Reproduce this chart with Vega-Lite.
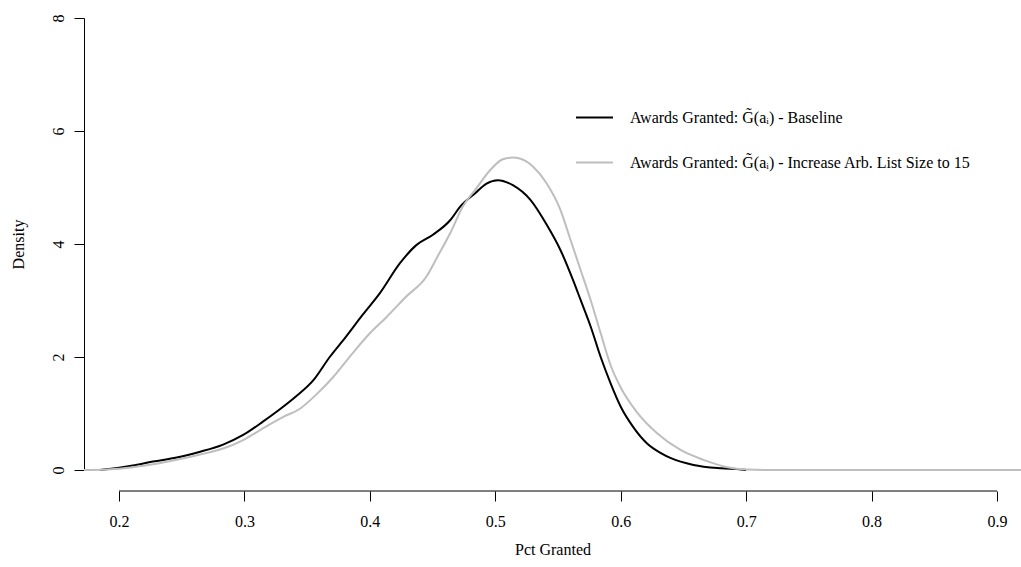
{
  "$schema": "https://vega.github.io/schema/vega-lite/v6.json",
  "width": 937,
  "height": 452,
  "autosize": "none",
  "padding": {"left": 84, "top": 18, "right": 0, "bottom": 97},
  "background": "white",
  "config": {
    "view": {"stroke": null},
    "font": "Liberation Serif",
    "axis": {
      "grid": false,
      "domainColor": "black",
      "domainWidth": 1,
      "tickColor": "black",
      "tickWidth": 1,
      "tickSize": 10,
      "labelFont": "Liberation Serif",
      "labelFontSize": 16,
      "labelColor": "black",
      "titleFont": "Liberation Serif",
      "titleFontSize": 16,
      "titleFontWeight": "normal",
      "titleColor": "black"
    },
    "legend": {
      "labelFont": "Liberation Serif",
      "labelFontSize": 16,
      "labelColor": "black",
      "labelLimit": 700
    }
  },
  "datasets": {
    "baseline": [
      {"pct": 0.185, "density": 0.0},
      {"pct": 0.2, "density": 0.04},
      {"pct": 0.211, "density": 0.08},
      {"pct": 0.227, "density": 0.15},
      {"pct": 0.246, "density": 0.22},
      {"pct": 0.264, "density": 0.32},
      {"pct": 0.283, "density": 0.45},
      {"pct": 0.299, "density": 0.62},
      {"pct": 0.315, "density": 0.86},
      {"pct": 0.328, "density": 1.07},
      {"pct": 0.341, "density": 1.3},
      {"pct": 0.355, "density": 1.59},
      {"pct": 0.368, "density": 2.0},
      {"pct": 0.381, "density": 2.36},
      {"pct": 0.394, "density": 2.74},
      {"pct": 0.408, "density": 3.13},
      {"pct": 0.424, "density": 3.66},
      {"pct": 0.437, "density": 3.98},
      {"pct": 0.45, "density": 4.16},
      {"pct": 0.464, "density": 4.42},
      {"pct": 0.472, "density": 4.66},
      {"pct": 0.484, "density": 4.9},
      {"pct": 0.493, "density": 5.07},
      {"pct": 0.502, "density": 5.13},
      {"pct": 0.514, "density": 5.04},
      {"pct": 0.528, "density": 4.78},
      {"pct": 0.541, "density": 4.34},
      {"pct": 0.552, "density": 3.89},
      {"pct": 0.562, "density": 3.36},
      {"pct": 0.568, "density": 3.01},
      {"pct": 0.576, "density": 2.54},
      {"pct": 0.584, "density": 2.0},
      {"pct": 0.592, "density": 1.53},
      {"pct": 0.6, "density": 1.12},
      {"pct": 0.61, "density": 0.76},
      {"pct": 0.621, "density": 0.47},
      {"pct": 0.632, "density": 0.3},
      {"pct": 0.64, "density": 0.21},
      {"pct": 0.658, "density": 0.09},
      {"pct": 0.68, "density": 0.03},
      {"pct": 0.696, "density": 0.01},
      {"pct": 0.7, "density": 0.0}
    ],
    "increase": [
      {"pct": 0.1721, "density": 0.0},
      {"pct": 0.19, "density": 0.01},
      {"pct": 0.211, "density": 0.05},
      {"pct": 0.23, "density": 0.11},
      {"pct": 0.246, "density": 0.18},
      {"pct": 0.264, "density": 0.27},
      {"pct": 0.283, "density": 0.38},
      {"pct": 0.299, "density": 0.53},
      {"pct": 0.315, "density": 0.74},
      {"pct": 0.331, "density": 0.94},
      {"pct": 0.344, "density": 1.08},
      {"pct": 0.357, "density": 1.33},
      {"pct": 0.371, "density": 1.65},
      {"pct": 0.386, "density": 2.06},
      {"pct": 0.4, "density": 2.42},
      {"pct": 0.413, "density": 2.7},
      {"pct": 0.429, "density": 3.07},
      {"pct": 0.445, "density": 3.42},
      {"pct": 0.454, "density": 3.78},
      {"pct": 0.464, "density": 4.19},
      {"pct": 0.474, "density": 4.66},
      {"pct": 0.485, "density": 4.99},
      {"pct": 0.496, "density": 5.31},
      {"pct": 0.506, "density": 5.5},
      {"pct": 0.514, "density": 5.53},
      {"pct": 0.525, "density": 5.46},
      {"pct": 0.53, "density": 5.37},
      {"pct": 0.541, "density": 5.07},
      {"pct": 0.552, "density": 4.6},
      {"pct": 0.56, "density": 4.07},
      {"pct": 0.568, "density": 3.54},
      {"pct": 0.576, "density": 3.01},
      {"pct": 0.584, "density": 2.42},
      {"pct": 0.592, "density": 1.85},
      {"pct": 0.6, "density": 1.46},
      {"pct": 0.613, "density": 1.02},
      {"pct": 0.629, "density": 0.65},
      {"pct": 0.648, "density": 0.35},
      {"pct": 0.666, "density": 0.18},
      {"pct": 0.685, "density": 0.05},
      {"pct": 0.701, "density": 0.01},
      {"pct": 0.72, "density": 0.0},
      {"pct": 0.9191, "density": 0.0}
    ],
    "xAxisLine": [{"from": 0.2, "to": 0.9}]
  },
  "layer": [
    {
      "data": {"name": "baseline"},
      "mark": {"type": "line", "strokeWidth": 2, "interpolate": "monotone"},
      "encoding": {
        "x": {
          "field": "pct",
          "type": "quantitative",
          "scale": {"domain": [0.1721, 0.9191], "nice": false, "zero": false},
          "axis": {
            "title": "Pct Granted",
            "values": [0.2, 0.3, 0.4, 0.5, 0.6, 0.7, 0.8, 0.9],
            "format": ".1f",
            "domain": false,
            "offset": 21,
            "labelPadding": 12,
            "titlePadding": 12
          }
        },
        "y": {
          "field": "density",
          "type": "quantitative",
          "scale": {"domain": [0, 8], "nice": false},
          "axis": {
            "title": "Density",
            "values": [0, 2, 4, 6, 8],
            "format": "d",
            "labelAngle": -90,
            "labelAlign": "center",
            "labelBaseline": "bottom",
            "labelPadding": 8,
            "titlePadding": 24
          }
        },
        "color": {
          "datum": "Baseline",
          "type": "nominal",
          "scale": {
            "domain": ["Baseline", "Increase Arb. List Size to 15"],
            "range": ["#000000", "#bebebe"]
          },
          "legend": {
            "title": null,
            "orient": "none",
            "legendX": 491,
            "legendY": 80,
            "padding": 0,
            "symbolType": "stroke",
            "symbolSize": 1369,
            "symbolStrokeWidth": 2,
            "labelOffset": 16,
            "rowPadding": 17,
            "labelExpr": "'Awards Granted: G\u0303(a\u1d62) - ' + datum.label"
          }
        }
      }
    },
    {
      "data": {"name": "increase"},
      "mark": {"type": "line", "strokeWidth": 2, "interpolate": "monotone"},
      "encoding": {
        "x": {"field": "pct", "type": "quantitative"},
        "y": {"field": "density", "type": "quantitative"},
        "color": {"datum": "Increase Arb. List Size to 15", "type": "nominal"}
      }
    },
    {
      "data": {"name": "xAxisLine"},
      "mark": {"type": "rule", "color": "black", "strokeWidth": 1},
      "encoding": {
        "x": {"field": "from", "type": "quantitative"},
        "x2": {"field": "to"},
        "y": {"datum": -0.372, "type": "quantitative"}
      }
    }
  ]
}
